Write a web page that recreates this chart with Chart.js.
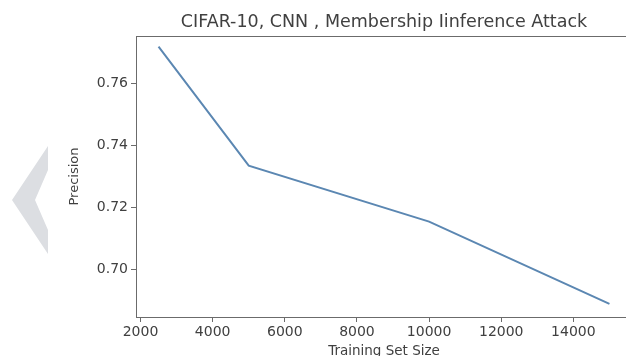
<!DOCTYPE html>
<html>
<head>
<meta charset="utf-8">
<script src="https://cdn.jsdelivr.net/npm/chart.js@4"></script>
<style>
  html, body { margin: 0; padding: 0; overflow: hidden; background: #fff; }
  #wrap { position: relative; width: 640px; height: 366px; }
</style>
</head>
<body>
<div id="wrap"><canvas id="grafico"></canvas></div>
<script>
// data
const trainSizes = [2500, 5000, 10000, 15000];
const precision = [0.7718, 0.7335, 0.7155, 0.689];
const xTicks = [2000, 4000, 6000, 8000, 10000, 12000, 14000];
const yTicks = [0.70, 0.72, 0.74, 0.76];

const titulo = 'CIFAR-10, CNN , Membership Iinference Attack';
const eixoX = 'Training Set Size';
const eixoY = 'Precision';

const corTexto = '#404040';
const corEixo = '#6b6b6b';
const fonte = 'DejaVu Sans';

// top frame line (matplotlib box)
const moldura = {
  id: 'moldura',
  afterDraw(chart) {
    const { ctx, chartArea: a } = chart;
    ctx.save();
    ctx.strokeStyle = corEixo;
    ctx.lineWidth = 1;
    ctx.beginPath();
    ctx.moveTo(a.left, a.top + 0.5);
    ctx.lineTo(a.right, a.top + 0.5);
    ctx.lineTo(a.right, a.bottom);
    ctx.stroke();
    ctx.restore();
  }
};

// grey chevron on the left margin of the scan
const chevron = {
  id: 'chevron',
  beforeDraw(chart) {
    const ctx = chart.ctx;
    ctx.save();
    ctx.fillStyle = '#dcdee2';
    ctx.beginPath();
    ctx.moveTo(48, 146);
    ctx.lineTo(12, 200);
    ctx.lineTo(48, 254);
    ctx.lineTo(48, 230);
    ctx.lineTo(35, 200);
    ctx.lineTo(48, 170);
    ctx.closePath();
    ctx.fill();
    ctx.restore();
  }
};

new Chart(document.getElementById('grafico'), {
  type: 'line',
  data: {
    datasets: [{
      data: trainSizes.map((x, i) => ({ x, y: precision[i] })),
      borderColor: '#5b87b2',
      borderWidth: 2,
      pointRadius: 0,
      tension: 0,
      fill: false
    }]
  },
  options: {
    responsive: true,
    maintainAspectRatio: false,
    animation: false,
    layout: { padding: { left: 0, right: 8, top: 0, bottom: 0 } },
    plugins: {
      legend: { display: false },
      tooltip: { enabled: false },
      title: {
        display: true,
        fullSize: false,
        text: titulo,
        color: corTexto,
        font: { family: fonte, size: 17.5, weight: 'normal', lineHeight: 1.2 },
        padding: { top: 11.5, bottom: 3.5 }
      }
    },
    scales: {
      x: {
        type: 'linear',
        min: 1875,
        max: 15625,
        afterBuildTicks: s => { s.ticks = xTicks.map(v => ({ value: v })); },
        afterFit: s => { s.height = 49; },
        grid: { drawOnChartArea: false, drawTicks: true, tickLength: 5, color: corEixo },
        border: { display: true, color: corEixo, width: 1 },
        ticks: {
          color: corTexto, padding: 2, maxRotation: 0,
          font: { family: fonte, size: 14 },
          callback: v => String(v)
        },
        title: {
          display: true, text: eixoX, color: corTexto,
          font: { family: fonte, size: 13.5 },
          padding: { top: 0, bottom: 6 }
        }
      },
      y: {
        min: 0.6848,
        max: 0.7752,
        afterBuildTicks: s => { s.ticks = yTicks.map(v => ({ value: v })); },
        afterFit: s => { s.width = 136; },
        grid: { drawOnChartArea: false, drawTicks: true, tickLength: 5, color: corEixo },
        border: { display: true, color: corEixo, width: 1 },
        ticks: {
          color: corTexto, padding: 3,
          font: { family: fonte, size: 14 },
          callback: v => v.toFixed(2)
        },
        title: {
          display: true, text: eixoY, color: corTexto,
          font: { family: fonte, size: 13 },
          padding: { top: 67, bottom: 0 }
        }
      }
    }
  },
  plugins: [moldura, chevron]
});
</script>
</body>
</html>
